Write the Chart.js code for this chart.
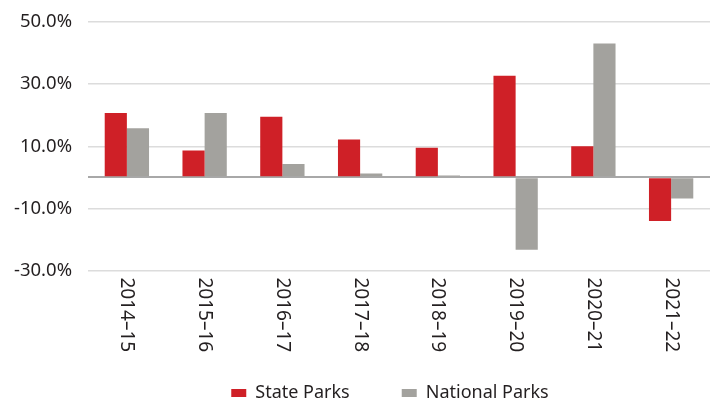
<!DOCTYPE html>
<html>
<head>
<meta charset="utf-8">
<script src="https://cdn.jsdelivr.net/npm/chart.js@4"></script>
<style>
  html, body { margin: 0; padding: 0; background: #fff; }
  #wrap { width: 716px; height: 402px; }
</style>
</head>
<body>
<div id="wrap"><canvas id="myChart" width="716" height="402"></canvas></div>
<script>
var years = ["2014\u201315", "2015\u201316", "2016\u201317", "2017\u201318", "2018\u201319", "2019\u201320", "2020\u201321", "2021\u201322"]
var stateParks = [20.7, 8.6, 19.5, 12.2, 9.5, 32.7, 10.0, -14.1]
var nationalParks = [15.8, 20.7, 4.3, 1.2, 0.6, -23.3, 43.1, -6.8]

var fontFamily = "'Noto Sans', sans-serif"
var textColor = "#231f20"

// x labels read top-to-bottom, chart.js only rotates the other way
var downLabels = {
    id: "downLabels",
    afterLayout: function (chart) {
        // legend sits a little left of the plot centre in the original
        chart.legend.left -= 9
        chart.legend.right -= 9
    },
    afterDraw: function (chart) {
        var ctx = chart.ctx
        var xs = chart.scales.x
        ctx.save()
        ctx.font = "19px " + fontFamily
        ctx.fillStyle = textColor
        ctx.textAlign = "left"
        ctx.textBaseline = "middle"
        for (let i = 0; i < years.length; i++) {
            ctx.save()
            ctx.translate(xs.getPixelForTick(i), xs.top + 7)
            ctx.rotate(Math.PI / 2)
            ctx.fillText(years[i], 0, 0)
            ctx.restore()
        }
        ctx.restore()
    }
}

new Chart("myChart", {
    type: "bar",
    data: {
        labels: years,
        datasets: [{
            label: "State Parks",
            data: stateParks,
            backgroundColor: "#cf2027"
        }, {
            label: "National Parks",
            data: nationalParks,
            backgroundColor: "#a3a29e"
        }]
    },
    options: {
        responsive: false,
        animation: false,
        layout: { padding: { top: 22, right: 6, left: 0, bottom: -10 } },
        plugins: {
            legend: {
                position: "bottom",
                fullSize: false,
                labels: {
                    boxWidth: 15,
                    boxHeight: 8,
                    padding: 52,
                    color: textColor,
                    font: { family: fontFamily, size: 18 }
                }
            },
            tooltip: { enabled: false }
        },
        datasets: {
            bar: { categoryPercentage: 0.57, barPercentage: 1 }
        },
        scales: {
            x: {
                grid: { display: false },
                border: { display: false },
                afterFit: function (axis) { axis.height = 61.5 },
                ticks: {
                    minRotation: 90,
                    maxRotation: 90,
                    color: "transparent",
                    font: { family: fontFamily, size: 19 }
                }
            },
            y: {
                min: -30,
                max: 50,
                border: { display: false },
                afterFit: function (axis) {
                    axis.width = 88
                    axis.paddingTop = 0
                    axis.paddingBottom = 0
                },
                afterBuildTicks: function (axis) {
                    axis.ticks.push({ value: 0 })
                    axis.ticks.sort(function (a, b) { return a.value - b.value })
                },
                grid: {
                    drawTicks: false,
                    color: function (c) { return c.tick && c.tick.value === 0 ? "#a8a8a8" : "#dcdcdc" },
                    lineWidth: function (c) { return c.tick && c.tick.value === 0 ? 2 : 1.5 }
                },
                ticks: {
                    stepSize: 20,
                    padding: 16,
                    color: textColor,
                    font: { family: fontFamily, size: 18.5 },
                    callback: function (v) { return v === 0 ? "" : v.toFixed(1) + "%" }
                }
            }
        }
    },
    plugins: [downLabels]
})
</script>
</body>
</html>
